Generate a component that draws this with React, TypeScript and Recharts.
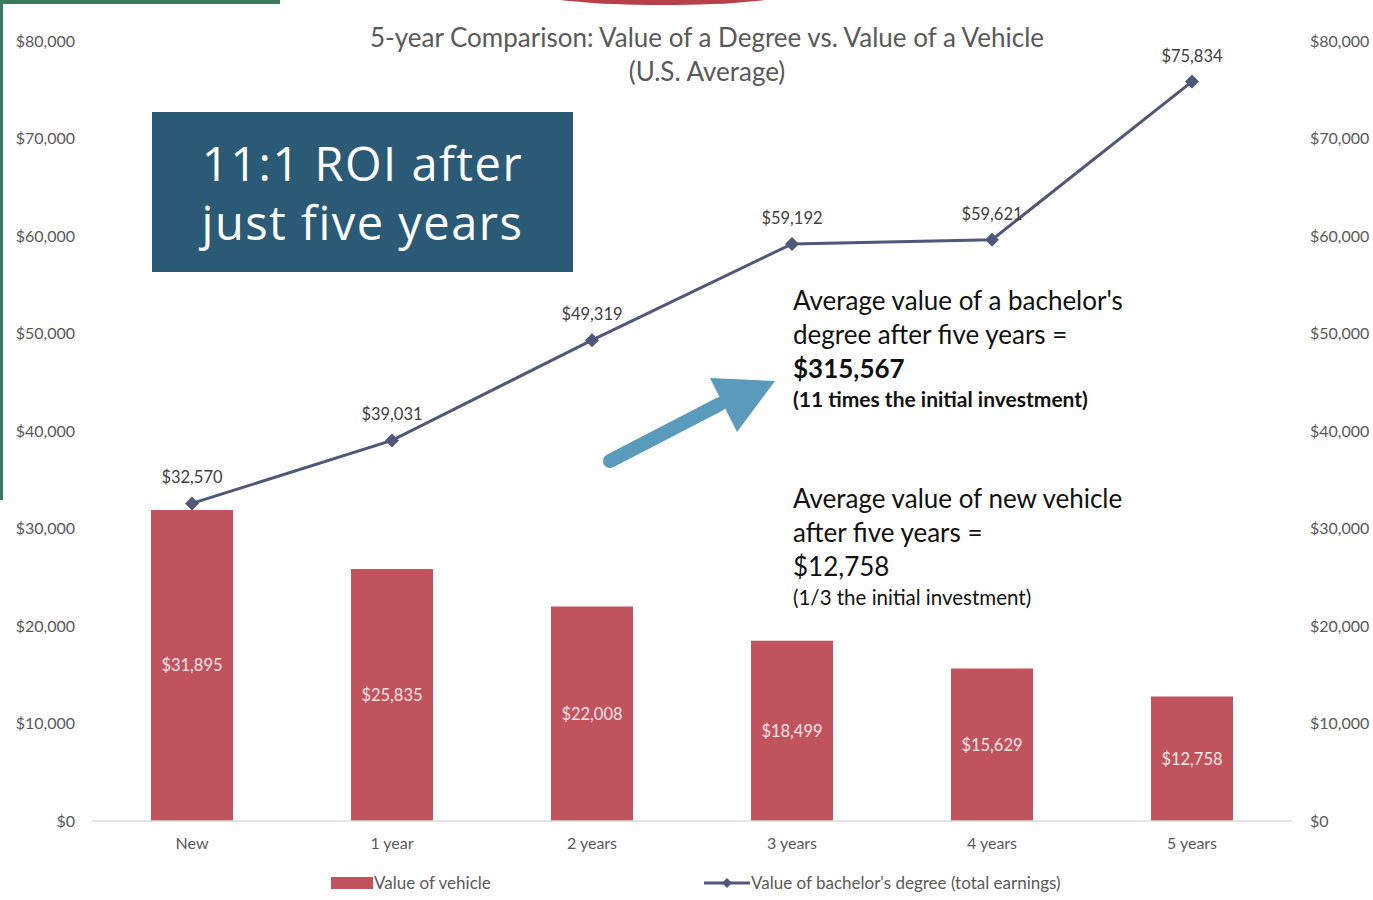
import React from "react";
import {
  ComposedChart, Bar, Line, XAxis, YAxis, LabelList, Legend,
} from "recharts";

const categories = ["New", "1 year", "2 years", "3 years", "4 years", "5 years"];
const vehicleValues = [31895, 25835, 22008, 18499, 15629, 12758];
const degreeValues = [32570, 39031, 49319, 59192, 59621, 75834];
const yTicks = [0, 10000, 20000, 30000, 40000, 50000, 60000, 70000, 80000];

const data = categories.map((name, i) => ({
  name,
  vehicle: vehicleValues[i],
  degree: degreeValues[i],
}));

const money = (v: any) => "$" + Number(v).toLocaleString("en-US");

const FONT = "Lato, 'Open Sans', sans-serif";
const BAR = "#c0535d";
const LINE = "#4f5878";

const LegendBox = () => (
  <div style={{ position: "relative", height: 20, fontFamily: FONT, fontSize: 17, color: "#595959" }}>
    <div style={{ position: "absolute", left: 331, top: 18, width: 42, height: 12, background: BAR }} />
    <span style={{ position: "absolute", left: 374, top: 13 }}>Value of vehicle</span>
    <svg style={{ position: "absolute", left: 704, top: 16 }} width={46} height={16}>
      <line x1={0} y1={8} x2={46} y2={8} stroke={LINE} strokeWidth={3} />
      <path d="M23 3 L28 8 L23 13 L18 8 Z" fill={LINE} />
    </svg>
    <span style={{ position: "absolute", left: 751, top: 13 }}>Value of bachelor's degree (total earnings)</span>
  </div>
);

const calloutLine = (top: number) => ({
  position: "absolute" as const,
  left: 152,
  top,
  width: 421,
  height: 54,
  lineHeight: "54px",
  textAlign: "center" as const,
  color: "#fff",
  fontFamily: "'Open Sans', sans-serif",
  fontSize: 47,
  letterSpacing: 1.5,
});

export default function App() {
  return (
    <div style={{ position: "absolute", left: 0, top: 0, width: 1373, height: 900, background: "#fff", overflow: "hidden" }}>
      {/* slide decorations */}
      <div style={{ position: "absolute", left: 0, top: 0, width: 3, height: 500, background: "#3c7a5a" }} />
      <div style={{ position: "absolute", left: 0, top: 0, width: 280, height: 4, background: "#3c7a5a" }} />
      <div style={{ position: "absolute", left: 535, top: -20, width: 256, height: 25, borderRadius: "50%", background: "#b8404a" }} />

      <ComposedChart
        width={1373}
        height={900}
        data={data}
        margin={{ top: 41, right: 0, left: 0, bottom: 0 }}
        barCategoryGap={118}
      >
        <XAxis
          dataKey="name"
          axisLine={{ stroke: "#d9d9d9", strokeWidth: 1.5 }}
          tickLine={false}
          tickSize={0}
          tickMargin={17}
          height={38}
          tick={{ fill: "#595959", fontSize: 16, fontFamily: FONT }}
        />
        <YAxis
          yAxisId="left"
          width={92}
          domain={[0, 80000]}
          ticks={yTicks}
          axisLine={false}
          tickLine={false}
          tickSize={0}
          tickMargin={17}
          tickFormatter={money}
          tick={{ fill: "#595959", fontSize: 16, fontFamily: FONT }}
        />
        <YAxis
          yAxisId="right"
          orientation="right"
          width={81}
          domain={[0, 80000]}
          ticks={yTicks}
          axisLine={false}
          tickLine={false}
          tickSize={0}
          tickMargin={18}
          tickFormatter={money}
          tick={{ fill: "#595959", fontSize: 16, fontFamily: FONT }}
        />
        <Legend verticalAlign="bottom" height={41} content={() => <LegendBox />} />
        <Bar yAxisId="left" dataKey="vehicle" fill={BAR} barSize={82} isAnimationActive={false}>
          <LabelList dataKey="vehicle" position="center" formatter={money} fill="#f7e4e4" fontSize={16.5} fontFamily={FONT} />
        </Bar>
        <Line
          yAxisId="right"
          dataKey="degree"
          stroke={LINE}
          strokeWidth={3}
          dot={(p: any) => (
            <path key={p.index} d={`M${p.cx} ${p.cy - 7} L${p.cx + 7} ${p.cy} L${p.cx} ${p.cy + 7} L${p.cx - 7} ${p.cy} Z`} fill={LINE} />
          )}
          isAnimationActive={false}
        >
          <LabelList dataKey="degree" position="top" offset={20} formatter={money} fill="#404040" fontSize={16.5} fontFamily={FONT} />
        </Line>
      </ComposedChart>

      {/* title */}
      <div style={{ position: "absolute", left: 257, top: 20, width: 900, textAlign: "center", fontFamily: FONT, fontSize: 26, lineHeight: "34px", color: "#595959" }}>
        5-year Comparison: Value of a Degree vs. Value of a Vehicle
        <br />
        (U.S. Average)
      </div>

      {/* callout box */}
      <div style={{ position: "absolute", left: 152, top: 112, width: 421, height: 160, background: "#2a5a75" }} />
      <div style={calloutLine(136)}>11:1 ROI after</div>
      <div style={calloutLine(195)}>just five years</div>

      {/* arrow */}
      <svg style={{ position: "absolute", left: 0, top: 0 }} width={1373} height={900}>
        <line x1={610} y1={461} x2={720} y2={404} stroke="#5a9bbb" strokeWidth={14} strokeLinecap="round" />
        <path d="M710 378 L775 381 L737 432 Z" fill="#5a9bbb" />
      </svg>

      {/* annotations */}
      <div style={{ position: "absolute", left: 793, top: 283, fontFamily: FONT, fontSize: 26, lineHeight: "34px", color: "#111" }}>
        Average value of a bachelor's
        <br />
        degree after five years =
        <br />
        <b>$315,567</b>
      </div>
      <div style={{ position: "absolute", left: 793, top: 386, fontFamily: FONT, fontSize: 21, fontWeight: 700, color: "#111" }}>
        (11 times the initial investment)
      </div>
      <div style={{ position: "absolute", left: 793, top: 481, fontFamily: FONT, fontSize: 26, lineHeight: "34px", color: "#111" }}>
        Average value of new vehicle
        <br />
        after five years =
        <br />
        $12,758
      </div>
      <div style={{ position: "absolute", left: 793, top: 585, fontFamily: FONT, fontSize: 20.5, color: "#111" }}>
        (1/3 the initial investment)
      </div>
    </div>
  );
}
